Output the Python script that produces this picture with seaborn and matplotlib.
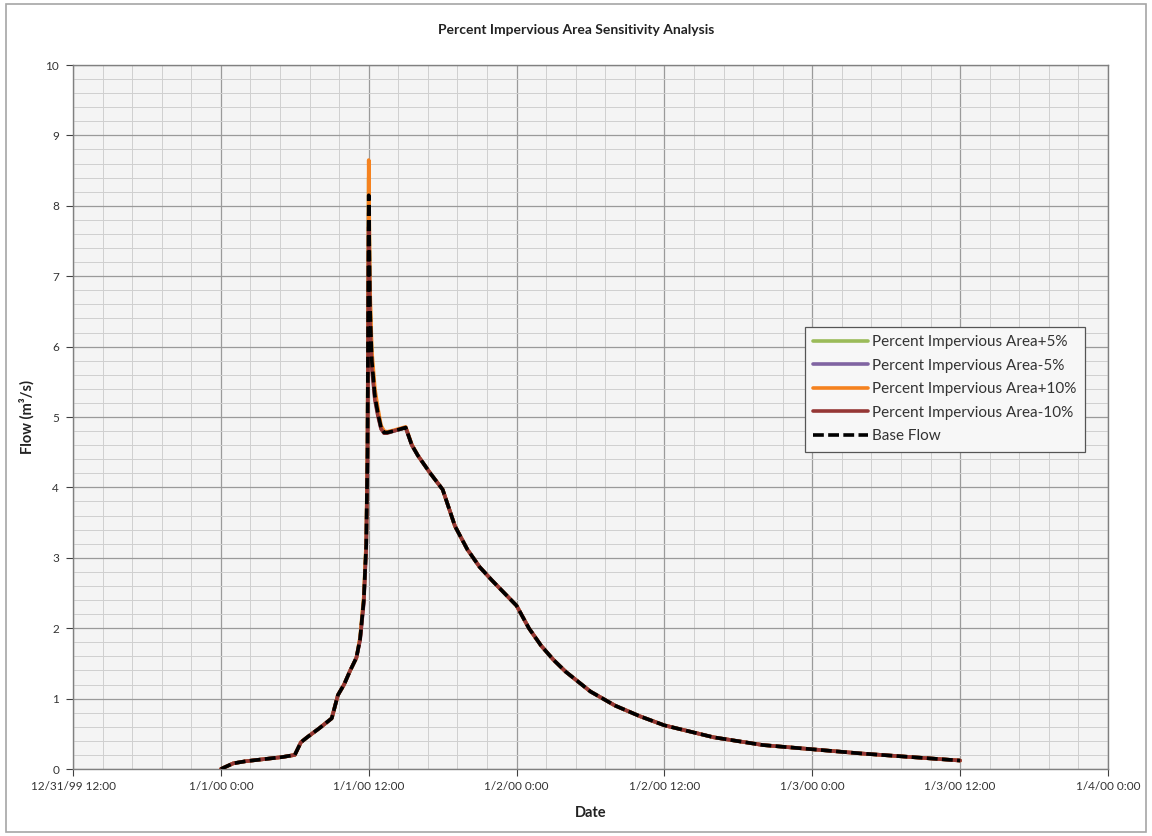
import matplotlib
matplotlib.use("Agg")
import matplotlib.pyplot as plt
import matplotlib.dates as mdates
from matplotlib.ticker import MultipleLocator
import seaborn as sns
import pandas as pd

# ---- data (hours after 1/1/00 0:00, flow m3/s) ----
hours = [0, 1, 2, 3, 4, 5, 6, 6.5, 7, 8, 9, 9.5, 10, 10.5, 11, 11.3, 11.6, 11.8, 11.9,
         12.0, 12.1, 12.25, 12.5, 12.75, 13.0, 13.25, 13.5, 14, 15, 15.5, 16, 17, 18,
         19, 20, 21, 22, 23, 24, 25, 26, 27, 28, 30, 32, 34, 36, 40, 44, 48, 52, 56, 60]

base_flow = [0, 0.08, 0.11, 0.13, 0.15, 0.17, 0.20, 0.38, 0.45, 0.58, 0.72, 1.05, 1.20, 1.40,
             1.58, 1.85, 2.40, 3.20, 4.50, 8.15, 6.60, 5.80, 5.30, 5.05, 4.85, 4.78, 4.78,
             4.80, 4.85, 4.60, 4.45, 4.20, 3.97, 3.45, 3.12, 2.87, 2.68, 2.50, 2.32, 2.00,
             1.75, 1.55, 1.38, 1.10, 0.90, 0.75, 0.62, 0.45, 0.34, 0.28, 0.22, 0.17, 0.12]

plus5 = [0, 0.08, 0.11, 0.13, 0.15, 0.17, 0.20, 0.38, 0.45, 0.58, 0.72, 1.05, 1.20, 1.40,
         1.58, 1.86, 2.42, 3.22, 4.55, 8.40, 6.70, 5.85, 5.33, 5.07, 4.86, 4.79, 4.78,
         4.80, 4.85, 4.60, 4.45, 4.20, 3.97, 3.45, 3.12, 2.87, 2.68, 2.50, 2.32, 2.00,
         1.75, 1.55, 1.38, 1.10, 0.90, 0.75, 0.62, 0.45, 0.34, 0.28, 0.22, 0.17, 0.12]

minus5 = [0, 0.08, 0.11, 0.13, 0.15, 0.17, 0.20, 0.38, 0.45, 0.58, 0.72, 1.05, 1.20, 1.40,
          1.58, 1.84, 2.38, 3.18, 4.45, 7.90, 6.50, 5.75, 5.27, 5.03, 4.84, 4.77, 4.78,
          4.80, 4.85, 4.60, 4.45, 4.20, 3.97, 3.45, 3.12, 2.87, 2.68, 2.50, 2.32, 2.00,
          1.75, 1.55, 1.38, 1.10, 0.90, 0.75, 0.62, 0.45, 0.34, 0.28, 0.22, 0.17, 0.12]

plus10 = [0, 0.08, 0.11, 0.13, 0.15, 0.17, 0.20, 0.38, 0.45, 0.58, 0.72, 1.05, 1.20, 1.40,
          1.58, 1.87, 2.45, 3.25, 4.60, 8.65, 6.85, 5.95, 5.40, 5.12, 4.88, 4.80, 4.79,
          4.81, 4.86, 4.61, 4.45, 4.20, 3.97, 3.45, 3.12, 2.87, 2.68, 2.50, 2.32, 2.00,
          1.75, 1.55, 1.38, 1.10, 0.90, 0.75, 0.62, 0.45, 0.34, 0.28, 0.22, 0.17, 0.12]

minus10 = [0, 0.08, 0.11, 0.13, 0.15, 0.17, 0.20, 0.38, 0.45, 0.58, 0.72, 1.05, 1.20, 1.40,
           1.58, 1.83, 2.36, 3.15, 4.40, 7.70, 6.40, 5.70, 5.24, 5.01, 4.83, 4.77, 4.77,
           4.80, 4.85, 4.60, 4.45, 4.20, 3.97, 3.45, 3.12, 2.87, 2.68, 2.50, 2.32, 2.00,
           1.75, 1.55, 1.38, 1.10, 0.90, 0.75, 0.62, 0.45, 0.34, 0.28, 0.22, 0.17, 0.12]

series_names = ["Percent Impervious Area+5%", "Percent Impervious Area-5%",
                "Percent Impervious Area+10%", "Percent Impervious Area-10%", "Base Flow"]
series_values = [plus5, minus5, plus10, minus10, base_flow]
series_colors = ["#9BBB59", "#8064A2", "#F5821F", "#953735", "#000000"]

x_tick_labels = ["12/31/99 12:00", "1/1/00 0:00", "1/1/00 12:00", "1/2/00 0:00",
                 "1/2/00 12:00", "1/3/00 0:00", "1/3/00 12:00", "1/4/00 0:00"]

# ---- build frame ----
start = pd.Timestamp("2000-01-01 00:00")
times = [start + pd.Timedelta(hours=h) for h in hours]

sns.set_theme(style="white")
plt.rcParams["font.family"] = ["Lato", "DejaVu Sans"]

fig = plt.figure(figsize=(11.52, 8.36), dpi=100)
ax = fig.add_axes([73 / 1152, 1 - 769 / 836, (1108 - 73) / 1152, (769 - 65) / 836])
ax.set_facecolor("#F4F4F4")

for name, vals, col in zip(series_names, series_values, series_colors):
    df = pd.DataFrame({"time": times, "flow": vals})
    if name == "Base Flow":
        sns.lineplot(data=df, x="time", y="flow", ax=ax, color=col, lw=2.6,
                     linestyle=(0, (3, 1.2)), label=name, zorder=5)
    else:
        sns.lineplot(data=df, x="time", y="flow", ax=ax, color=col, lw=2.6,
                     label=name, zorder=3)

xmin = mdates.date2num(pd.Timestamp("1999-12-31 12:00"))
xmax = mdates.date2num(pd.Timestamp("2000-01-04 00:00"))
ax.set_xlim(xmin, xmax)
ax.set_ylim(0, 10)

major_x = [xmin + 0.5 * i for i in range(len(x_tick_labels))]
ax.set_xticks(major_x)
ax.set_xticklabels(x_tick_labels)
ax.xaxis.set_minor_locator(MultipleLocator(0.1))
ax.yaxis.set_major_locator(MultipleLocator(1))
ax.yaxis.set_minor_locator(MultipleLocator(0.2))

ax.grid(which="major", color="#9A9A9A", lw=0.9)
ax.grid(which="minor", color="#CFCFCF", lw=0.7)
ax.set_axisbelow(True)

ax.tick_params(axis="both", which="major", labelsize=8.5, colors="#404040",
               direction="out", length=5, width=0.8, bottom=True, left=True)
ax.tick_params(axis="y", which="major", pad=5)
ax.tick_params(axis="both", which="minor", length=0)
for lab in ax.get_xticklabels() + ax.get_yticklabels():
    lab.set_color("#333333")

for s in ax.spines.values():
    s.set_color("#808080")
    s.set_linewidth(1.0)

ax.set_xlabel("Date", fontsize=10.5, fontweight="bold", color="#222222", labelpad=10)
ax.set_ylabel("Flow (m³/s)", fontsize=10.5, fontweight="bold", color="#222222", labelpad=8)
fig.text(0.5, 1 - 30 / 836, "Percent Impervious Area Sensitivity Analysis",
         ha="center", va="center", fontsize=10, fontweight="bold", color="#222222")

leg = ax.legend(loc="upper left", bbox_to_anchor=(0.707, 0.628), fontsize=11,
                frameon=True, fancybox=False, framealpha=1, edgecolor="#555555",
                facecolor="#F7F7F7", handlelength=3.6, handletextpad=0.25,
                labelspacing=0.62, borderpad=0.55, borderaxespad=0)
leg.get_frame().set_linewidth(0.9)
for t in leg.get_texts():
    t.set_color("#333333")

# outer chart border
fig.patches.append(plt.Rectangle((0.005, 0.005), 0.99, 0.99, transform=fig.transFigure,
                                 fill=False, edgecolor="#A6A6A6", lw=1.2))

fig.savefig("out.png", dpi=100)
